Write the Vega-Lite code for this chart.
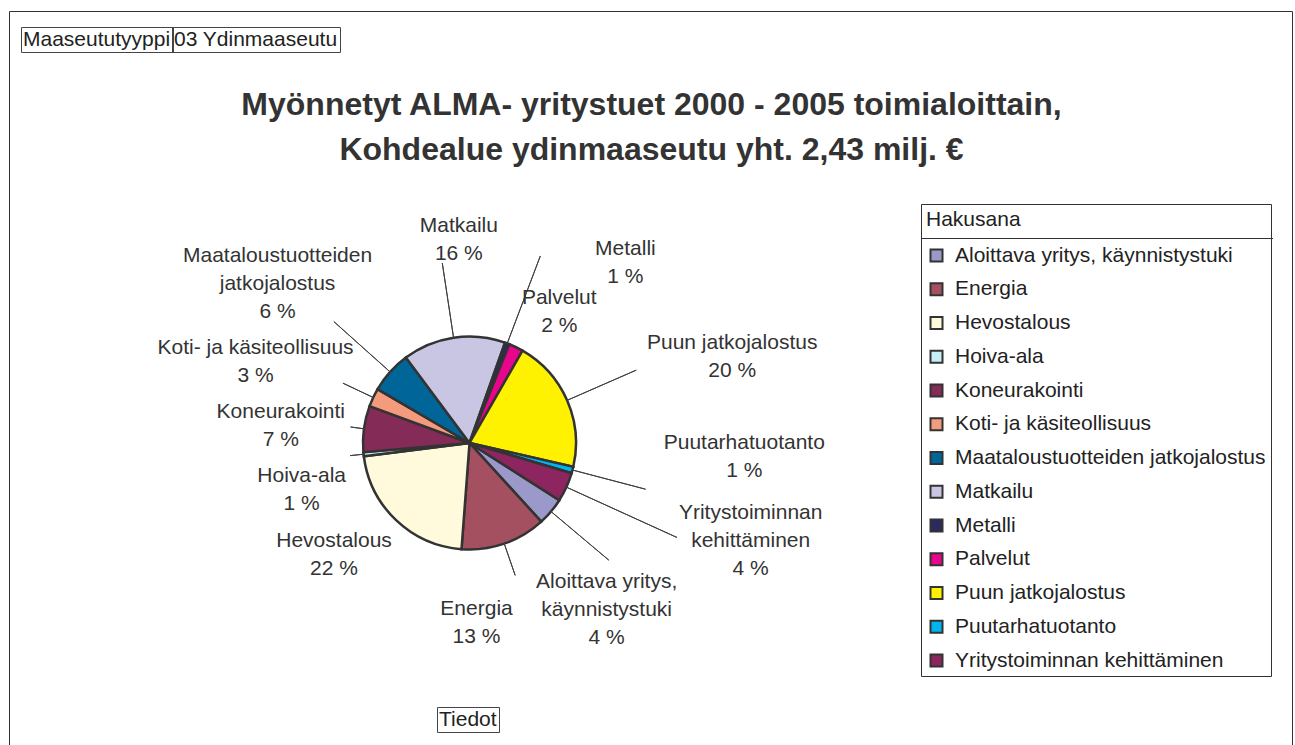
{
  "$schema": "https://vega.github.io/schema/vega-lite/v6.json",
  "width": 213,
  "height": 214,
  "autosize": "none",
  "padding": {"left": 363, "top": 336, "right": 719, "bottom": 195},
  "background": "white",
  "title": {
    "text": ["Myönnetyt ALMA- yritystuet 2000 - 2005 toimialoittain,", "Kohdealue ydinmaaseutu yht. 2,43 milj. €"],
    "font": "Liberation Sans",
    "fontSize": 32,
    "fontWeight": "bold",
    "color": "#333333",
    "anchor": "middle",
    "frame": "group",
    "dx": 182,
    "offset": -156,
    "lineHeight": 45
  },
  "layer": [
    {
      "data": {
        "values": [
          {"k": "Aloittava yritys, käynnistystuki", "v": 102, "i": 1, "lbl": "Aloittava yritys,\nkäynnistystuki\n4 %"},
          {"k": "Energia", "v": 315, "i": 2, "lbl": "Energia\n13 %"},
          {"k": "Hevostalous", "v": 530, "i": 3, "lbl": "Hevostalous\n22 %"},
          {"k": "Hoiva-ala", "v": 15, "i": 4, "lbl": "Hoiva-ala\n1 %"},
          {"k": "Koneurakointi", "v": 170, "i": 5, "lbl": "Koneurakointi\n7 %"},
          {"k": "Koti- ja käsiteollisuus", "v": 68, "i": 6, "lbl": "Koti- ja käsiteollisuus\n3 %"},
          {"k": "Maataloustuotteiden jatkojalostus", "v": 155, "i": 7, "lbl": "Maataloustuotteiden\njatkojalostus\n6 %"},
          {"k": "Matkailu", "v": 379, "i": 8, "lbl": "Matkailu\n16 %"},
          {"k": "Metalli", "v": 17, "i": 9, "lbl": "Metalli\n1 %"},
          {"k": "Palvelut", "v": 53, "i": 10, "lbl": "Palvelut\n2 %"},
          {"k": "Puun jatkojalostus", "v": 493, "i": 11, "lbl": "Puun jatkojalostus\n20 %"},
          {"k": "Puutarhatuotanto", "v": 24, "i": 12, "lbl": "Puutarhatuotanto\n1 %"},
          {"k": "Yritystoiminnan kehittäminen", "v": 108, "i": 13, "lbl": "Yritystoiminnan\nkehittäminen\n4 %"}
        ]
      },
      "transform": [
        {"stack": "v", "groupby": [], "sort": [{"field": "i", "order": "ascending"}], "as": ["s0", "s1"]},
        {"calculate": "(datum.s0 + datum.s1) / 2", "as": "m"}
      ],
      "layer": [
        {
          "mark": {"type": "arc", "stroke": "#333333", "strokeWidth": 2.5},
          "encoding": {
            "theta": {"field": "s0", "type": "quantitative", "stack": null, "scale": {"domain": [0, 2429], "range": [2.138, 8.421], "nice": false, "zero": true}},
            "theta2": {"field": "s1"},
            "color": {
              "field": "k",
              "type": "nominal",
              "scale": {
                "domain": ["Aloittava yritys, käynnistystuki", "Energia", "Hevostalous", "Hoiva-ala", "Koneurakointi", "Koti- ja käsiteollisuus", "Maataloustuotteiden jatkojalostus", "Matkailu", "Metalli", "Palvelut", "Puun jatkojalostus", "Puutarhatuotanto", "Yritystoiminnan kehittäminen"],
                "range": ["#9b98ca", "#a55060", "#fffadc", "#c8eef8", "#852b58", "#f59b7d", "#00669a", "#c9c6e4", "#2a2a5e", "#e8058c", "#fff200", "#00b4ef", "#8d2660"]
              },
              "legend": {
                "orient": "none",
                "legendX": 558,
                "legendY": -132,
                "title": "Hakusana",
                "titleFont": "Liberation Sans",
                "titleFontSize": 21,
                "titleFontWeight": "normal",
                "titleColor": "#222222",
                "titlePadding": 15,
                "labelFont": "Liberation Sans",
                "labelFontSize": 21,
                "labelColor": "#222222",
                "labelLimit": 400,
                "labelOffset": 8,
                "symbolType": "square",
                "symbolSize": 144,
                "symbolStrokeColor": "#333333",
                "symbolStrokeWidth": 2,
                "rowPadding": 11.75,
                "padding": 5,
                "strokeColor": "#333333"
              }
            },
            "order": {"field": "i"}
          }
        },
        {
          "transform": [{"filter": {"field": "k", "oneOf": ["Koneurakointi", "Hoiva-ala"]}}],
          "mark": {"type": "arc", "radius": 120, "radius2": 106, "stroke": "#404040", "strokeWidth": 1, "fillOpacity": 0},
          "encoding": {"theta": {"field": "m", "type": "quantitative", "stack": null}, "theta2": {"field": "m"}}
        },
        {
          "transform": [{"filter": {"field": "k", "oneOf": ["Koti- ja käsiteollisuus", "Energia"]}}],
          "mark": {"type": "arc", "radius": 140, "radius2": 106, "stroke": "#404040", "strokeWidth": 1, "fillOpacity": 0},
          "encoding": {"theta": {"field": "m", "type": "quantitative", "stack": null}, "theta2": {"field": "m"}}
        },
        {
          "transform": [{"filter": {"field": "k", "oneOf": ["Matkailu", "Maataloustuotteiden jatkojalostus", "Aloittava yritys, käynnistystuki", "Puutarhatuotanto", "Puun jatkojalostus"]}}],
          "mark": {"type": "arc", "radius": 182, "radius2": 106, "stroke": "#404040", "strokeWidth": 1, "fillOpacity": 0},
          "encoding": {"theta": {"field": "m", "type": "quantitative", "stack": null}, "theta2": {"field": "m"}}
        },
        {
          "transform": [{"filter": {"field": "k", "equal": "Metalli"}}],
          "mark": {"type": "arc", "radius": 200, "radius2": 106, "stroke": "#404040", "strokeWidth": 1, "fillOpacity": 0},
          "encoding": {"theta": {"field": "m", "type": "quantitative", "stack": null}, "theta2": {"field": "m"}}
        },
        {
          "transform": [{"filter": {"field": "k", "equal": "Yritystoiminnan kehittäminen"}}],
          "mark": {"type": "arc", "radius": 228, "radius2": 106, "stroke": "#404040", "strokeWidth": 1, "fillOpacity": 0},
          "encoding": {"theta": {"field": "m", "type": "quantitative", "stack": null}, "theta2": {"field": "m"}}
        },
        {"transform": [{"filter": {"field": "k", "equal": "Aloittava yritys, käynnistystuki"}}], "mark": {"type": "text", "radius": 195.5, "thetaOffset": 0.094}, "encoding": {"theta": {"field": "m", "type": "quantitative", "stack": null}, "text": {"field": "lbl"}}},
        {"transform": [{"filter": {"field": "k", "equal": "Energia"}}], "mark": {"type": "text", "radius": 166.6, "thetaOffset": 0.290}, "encoding": {"theta": {"field": "m", "type": "quantitative", "stack": null}, "text": {"field": "lbl"}}},
        {"transform": [{"filter": {"field": "k", "equal": "Hevostalous"}}], "mark": {"type": "text", "radius": 167.3, "thetaOffset": 0.183}, "encoding": {"theta": {"field": "m", "type": "quantitative", "stack": null}, "text": {"field": "lbl"}}},
        {"transform": [{"filter": {"field": "k", "equal": "Hoiva-ala"}}], "mark": {"type": "text", "radius": 171.1, "thetaOffset": -0.091}, "encoding": {"theta": {"field": "m", "type": "quantitative", "stack": null}, "text": {"field": "lbl"}}},
        {"transform": [{"filter": {"field": "k", "equal": "Koneurakointi"}}], "mark": {"type": "text", "radius": 191.2, "thetaOffset": 0.028}, "encoding": {"theta": {"field": "m", "type": "quantitative", "stack": null}, "text": {"field": "lbl"}}},
        {"transform": [{"filter": {"field": "k", "equal": "Koti- ja käsiteollisuus"}}], "mark": {"type": "text", "radius": 234.2, "thetaOffset": -0.023}, "encoding": {"theta": {"field": "m", "type": "quantitative", "stack": null}, "text": {"field": "lbl"}}},
        {"transform": [{"filter": {"field": "k", "equal": "Maataloustuotteiden jatkojalostus"}}], "mark": {"type": "text", "radius": 267.9, "thetaOffset": 0.042}, "encoding": {"theta": {"field": "m", "type": "quantitative", "stack": null}, "text": {"field": "lbl"}}},
        {"transform": [{"filter": {"field": "k", "equal": "Matkailu"}}], "mark": {"type": "text", "radius": 217.1, "thetaOffset": 0.101}, "encoding": {"theta": {"field": "m", "type": "quantitative", "stack": null}, "text": {"field": "lbl"}}},
        {"transform": [{"filter": {"field": "k", "equal": "Metalli"}}], "mark": {"type": "text", "radius": 248.5, "thetaOffset": 0.316}, "encoding": {"theta": {"field": "m", "type": "quantitative", "stack": null}, "text": {"field": "lbl"}}},
        {"transform": [{"filter": {"field": "k", "equal": "Palvelut"}}], "mark": {"type": "text", "radius": 170.7, "thetaOffset": 0.101}, "encoding": {"theta": {"field": "m", "type": "quantitative", "stack": null}, "text": {"field": "lbl"}}},
        {"transform": [{"filter": {"field": "k", "equal": "Puun jatkojalostus"}}], "mark": {"type": "text", "radius": 281.2, "thetaOffset": 0.047}, "encoding": {"theta": {"field": "m", "type": "quantitative", "stack": null}, "text": {"field": "lbl"}}},
        {"transform": [{"filter": {"field": "k", "equal": "Puutarhatuotanto"}}], "mark": {"type": "text", "radius": 274.8, "thetaOffset": -0.257}, "encoding": {"theta": {"field": "m", "type": "quantitative", "stack": null}, "text": {"field": "lbl"}}},
        {"transform": [{"filter": {"field": "k", "equal": "Yritystoiminnan kehittäminen"}}], "mark": {"type": "text", "radius": 289.8, "thetaOffset": -0.183}, "encoding": {"theta": {"field": "m", "type": "quantitative", "stack": null}, "text": {"field": "lbl"}}}
      ]
    },
    {
      "data": {"values": [{"a": "Maaseututyyppi", "b": "03 Ydinmaaseutu", "c": "Tiedot"}]},
      "mark": {"type": "point", "opacity": 0},
      "encoding": {
        "shape": {"field": "a", "type": "nominal", "legend": {"orient": "none", "legendX": -342, "legendY": -309, "title": null, "strokeColor": "#444444", "padding": 2, "symbolSize": 1, "symbolOpacity": 0, "symbolStrokeWidth": 0, "labelOffset": -21, "labelLimit": 300, "labelFont": "Liberation Sans", "labelFontSize": 21, "labelColor": "#222222"}},
        "strokeDash": {"field": "b", "type": "nominal", "legend": {"orient": "none", "legendX": -191, "legendY": -309, "title": null, "strokeColor": "#444444", "padding": 2, "symbolSize": 1, "symbolOpacity": 0, "symbolStrokeWidth": 0, "labelOffset": -21, "labelLimit": 300, "labelFont": "Liberation Sans", "labelFontSize": 21, "labelColor": "#222222"}},
        "strokeWidth": {"field": "c", "type": "ordinal", "legend": {"orient": "none", "legendX": 74, "legendY": 371, "title": null, "strokeColor": "#444444", "padding": 2, "symbolSize": 1, "symbolOpacity": 0, "symbolStrokeWidth": 0, "labelOffset": -21, "labelLimit": 300, "labelFont": "Liberation Sans", "labelFontSize": 21, "labelColor": "#222222"}}
      }
    },
    {
      "data": {"values": [{"d1": " ", "d2": " ", "d3": " "}]},
      "mark": {"type": "point", "opacity": 0},
      "encoding": {
        "size": {"field": "d1", "type": "ordinal", "scale": {"range": [1, 1]}, "legend": {"orient": "none", "legendX": -354, "legendY": -325, "title": null, "strokeColor": "#333333", "padding": 641, "symbolOpacity": 0, "symbolStrokeWidth": 0, "labelOffset": 0, "labelFontSize": 1}},
        "fillOpacity": {"field": "d2", "type": "ordinal", "legend": {"orient": "none", "legendX": -355, "legendY": -326, "title": null, "strokeColor": "#333333", "padding": 642, "symbolOpacity": 0, "symbolStrokeWidth": 0, "labelOffset": 0, "labelFontSize": 1}},
        "strokeOpacity": {"field": "d3", "type": "ordinal", "legend": {"orient": "none", "legendX": -353, "legendY": -324, "title": null, "strokeColor": "#333333", "padding": 640, "symbolOpacity": 0, "symbolStrokeWidth": 0, "labelOffset": 0, "labelFontSize": 1}}
      }
    },
    {
      "data": {"values": [{"e": 0.5}]},
      "mark": {"type": "point", "opacity": 0},
      "encoding": {
        "stroke": {"field": "e", "type": "quantitative", "scale": {"domain": [0, 1], "range": ["#333333", "#333333"]}, "legend": {"type": "gradient", "orient": "none", "legendX": 558, "legendY": -98, "direction": "horizontal", "gradientLength": 352, "gradientThickness": 1, "gradientStrokeWidth": 0, "labelExpr": "''", "title": null, "padding": 0}}
      }
    }
  ],
  "config": {
    "view": {"fill": "#bfb7b4", "stroke": "#8c827e", "strokeWidth": 3},
    "text": {"font": "Liberation Sans", "fontSize": 21, "color": "#333333", "lineHeight": 28, "lineBreak": "\n", "align": "center", "baseline": "middle"},
    "legend": {"strokeWidth": 1}
  }
}
